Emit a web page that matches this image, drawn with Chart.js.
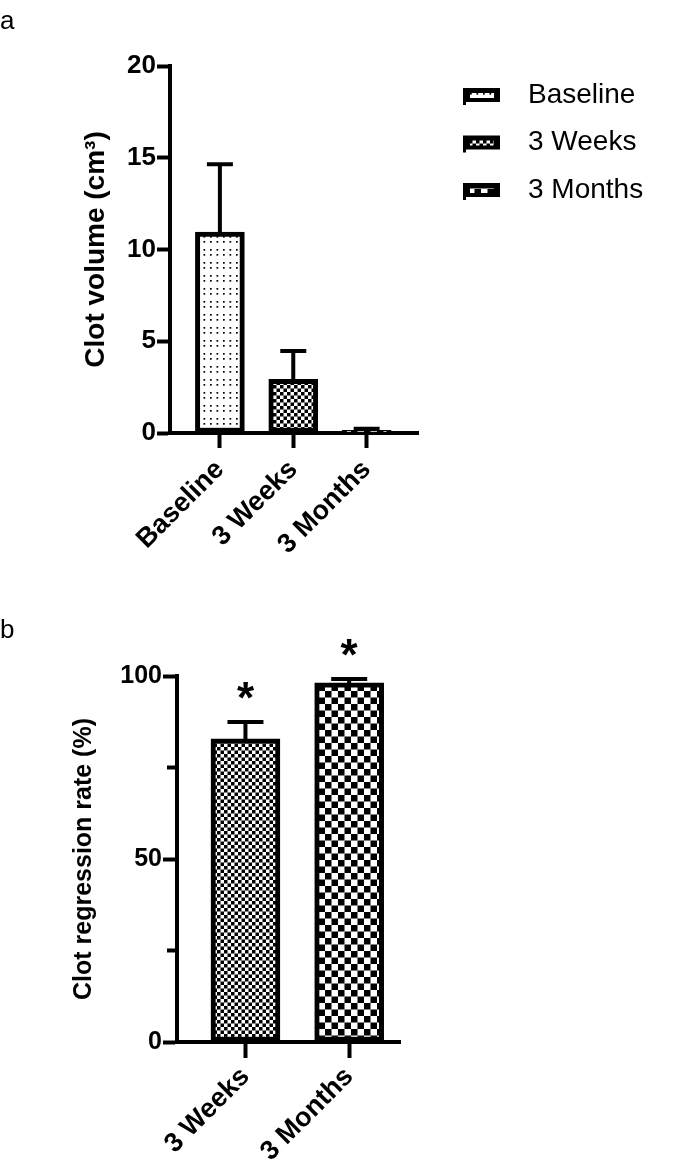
<!DOCTYPE html>
<html>
<head>
<meta charset="utf-8">
<script src="https://cdn.jsdelivr.net/npm/chart.js@4.4.0/dist/chart.umd.min.js"></script>
<style>
  html, body { margin: 0; padding: 0; background: #fff; }
  body { width: 685px; height: 1174px; position: relative; overflow: hidden; }
  canvas { position: absolute; left: 0; }
  #chartA { top: 0; }
  #chartB { top: 600px; }
</style>
</head>
<body>
<canvas id="chartA" width="685" height="600"></canvas>
<canvas id="chartB" width="685" height="574"></canvas>
<script>
// panel a: clot volume
const volumeLabels = ['Baseline', '3 Weeks', '3 Months'];
const volumeMeans = [10.95, 2.92, 0.15];
const volumeSD = [3.7, 1.55, 0.08];
const volumeTicks = [0, 5, 10, 15, 20];

// panel b: clot regression rate
const rateLabels = ['3 Weeks', '3 Months'];
const rateMeans = [82.8, 98.1];
const rateSD = [4.6, 1.1];
const rateTicks = [0, 50, 100];
const rateMinorTicks = [25, 75];
const rateStars = ['*', '*'];

const FONT = "'Liberation Sans', Arial, sans-serif";

// fill patterns like the GraphPad ones
const makeTile = (size, draw) => {
    const c = document.createElement('canvas');
    c.width = size; c.height = size;
    const t = c.getContext('2d');
    t.fillStyle = '#fff';
    t.fillRect(0, 0, size, size);
    t.fillStyle = '#000';
    draw(t);
    return document.createElement('canvas').getContext('2d').createPattern(c, 'repeat');
};
const patterns = {
    'Baseline': makeTile(13, t => {
        t.fillRect(2, 2, 1.7, 1.7); t.fillRect(8.5, 2, 1.7, 1.7);
        t.fillRect(2, 7, 1.7, 1.7); t.fillRect(8.5, 7, 1.7, 1.7);
    }),
    '3 Weeks': makeTile(7, t => {
        t.fillRect(0, 0, 3.5, 3.5); t.fillRect(3.5, 3.5, 3.5, 3.5);
    }),
    '3 Months': makeTile(13, t => {
        t.fillRect(0, 0, 6.5, 6.5); t.fillRect(6.5, 6.5, 6.5, 6.5);
    })
};

const errorBarPlugin = (means, errors, capWidth, stars) => ({
    id: 'errorBars',
    afterDatasetsDraw(chart) {
        const ctx = chart.ctx;
        const meta = chart.getDatasetMeta(0);
        const y = chart.scales.y;
        ctx.save();
        ctx.strokeStyle = '#000';
        ctx.fillStyle = '#000';
        ctx.lineWidth = 4;
        errors.forEach((e, i) => {
            const bar = meta.data[i];
            const top = y.getPixelForValue(means[i] + e);
            ctx.beginPath();
            ctx.moveTo(bar.x, bar.y);
            ctx.lineTo(bar.x, top);
            ctx.moveTo(bar.x - capWidth / 2, top);
            ctx.lineTo(bar.x + capWidth / 2, top);
            ctx.stroke();
            if (stars) {
                ctx.font = 'bold 44px ' + FONT;
                ctx.textAlign = 'center';
                ctx.textBaseline = 'alphabetic';
                ctx.fillText(stars[i], bar.x, top - 33 + 24);
            }
        });
        ctx.restore();
    }
});

const legendPlugin = (labels, boxX, textX, firstY, gap, letter, letterY) => ({
    id: 'sideLegend',
    afterDraw(chart) {
        const ctx = chart.ctx;
        ctx.save();
        ctx.textBaseline = 'middle';
        ctx.textAlign = 'left';
        labels.forEach((label, i) => {
            const cy = firstY + i * gap;
            ctx.fillStyle = '#000';
            ctx.fillRect(boxX, cy - 7, 37, 14);
            ctx.fillRect(boxX, cy + 6, 3, 4);
            ctx.fillStyle = patterns[label];
            ctx.fillRect(boxX + 7, cy - 2, 24, 5);
            ctx.fillStyle = '#000';
            ctx.font = '28px ' + FONT;
            ctx.fillText(label, textX, cy);
        });
        ctx.font = '26px ' + FONT;
        ctx.textBaseline = 'alphabetic';
        ctx.fillText(letter, 0, letterY);
        ctx.restore();
    }
});

const minorTickPlugin = (values, len) => ({
    id: 'minorTicks',
    afterDraw(chart) {
        const ctx = chart.ctx;
        const y = chart.scales.y;
        const x0 = chart.chartArea.left;
        ctx.save();
        ctx.strokeStyle = '#000';
        ctx.lineWidth = 4;
        values.forEach(v => {
            const py = y.getPixelForValue(v);
            ctx.beginPath();
            ctx.moveTo(x0 - len, py);
            ctx.lineTo(x0, py);
            ctx.stroke();
        });
        ctx.restore();
    }
});

const axisBase = (tickLength) => ({
    offset: false,
    grid: { offset: false, drawOnChartArea: false, tickLength: tickLength, tickWidth: 4, color: '#000' },
    border: { color: '#000', width: 4 }
});

const renderChart = (canvasId, labels, means, errors, yTicks, opts) => {
    const ctx = document.getElementById(canvasId);
    return new Chart(ctx, {
        type: 'bar',
        data: {
            datasets: [{
                data: labels.map((l, i) => ({ x: i, y: means[i] })),
                backgroundColor: labels.map(l => patterns[l]),
                borderColor: '#000',
                borderWidth: 5,
                borderSkipped: false,
                barThickness: opts.barThickness
            }]
        },
        options: {
            responsive: false,
            animation: false,
            layout: { padding: opts.padding },
            plugins: {
                legend: { display: false },
                tooltip: { enabled: false }
            },
            scales: {
                x: {
                    ...axisBase(opts.xTickLength),
                    type: 'linear',
                    min: opts.xMin,
                    max: opts.xMax,
                    afterBuildTicks: s => { s.ticks = labels.map((l, i) => ({ value: i })); },
                    afterFit: s => { s.height = opts.xHeight; },
                    ticks: {
                        callback: v => labels[v],
                        minRotation: 45,
                        maxRotation: 45,
                        color: '#000',
                        padding: opts.xLabelPad,
                        font: { family: FONT, size: 27, weight: 'bold' }
                    }
                },
                y: {
                    ...axisBase(opts.yTickLength),
                    min: yTicks[0],
                    max: yTicks[yTicks.length - 1],
                    afterBuildTicks: s => { s.ticks = yTicks.map(v => ({ value: v })); },
                    afterFit: s => { s.width = opts.yWidth; },
                    ticks: {
                        color: '#000',
                        padding: 1,
                        font: { family: FONT, size: opts.tickSize, weight: 'bold' }
                    },
                    title: {
                        display: true,
                        text: opts.yTitle,
                        color: '#000',
                        padding: 0,
                        font: { family: FONT, size: opts.titleSize, weight: 'bold' }
                    }
                }
            }
        },
        plugins: opts.plugins
    });
};

renderChart('chartA', volumeLabels, volumeMeans, volumeSD, volumeTicks, {
    barThickness: 49,
    padding: { left: 79, right: 267, top: 66, bottom: 0 },
    xMin: -0.68, xMax: 2.7,
    xHeight: 167, yWidth: 91,
    xTickLength: 15, yTickLength: 13,
    xLabelPad: 6,
    tickSize: 26, titleSize: 28,
    yTitle: 'Clot volume (cm³)',
    plugins: [
        errorBarPlugin(volumeMeans, volumeSD, 26, null),
        legendPlugin(volumeLabels, 463, 528, 95, 47.5, 'a', 29)
    ]
});

renderChart('chartB', rateLabels, rateMeans, rateSD, rateTicks, {
    barThickness: 69,
    padding: { left: 69, right: 285, top: 76, bottom: 0 },
    xMin: -0.66, xMax: 1.49,
    xHeight: 132, yWidth: 108,
    xTickLength: 16, yTickLength: 14,
    xLabelPad: 3,
    tickSize: 25, titleSize: 25,
    yTitle: 'Clot regression rate (%)',
    plugins: [
        errorBarPlugin(rateMeans, rateSD, 36, rateStars),
        minorTickPlugin(rateMinorTicks, 10),
        legendPlugin(rateLabels, 502, 563, 703, 47, 'b', 38)
    ]
});
</script>
</body>
</html>
